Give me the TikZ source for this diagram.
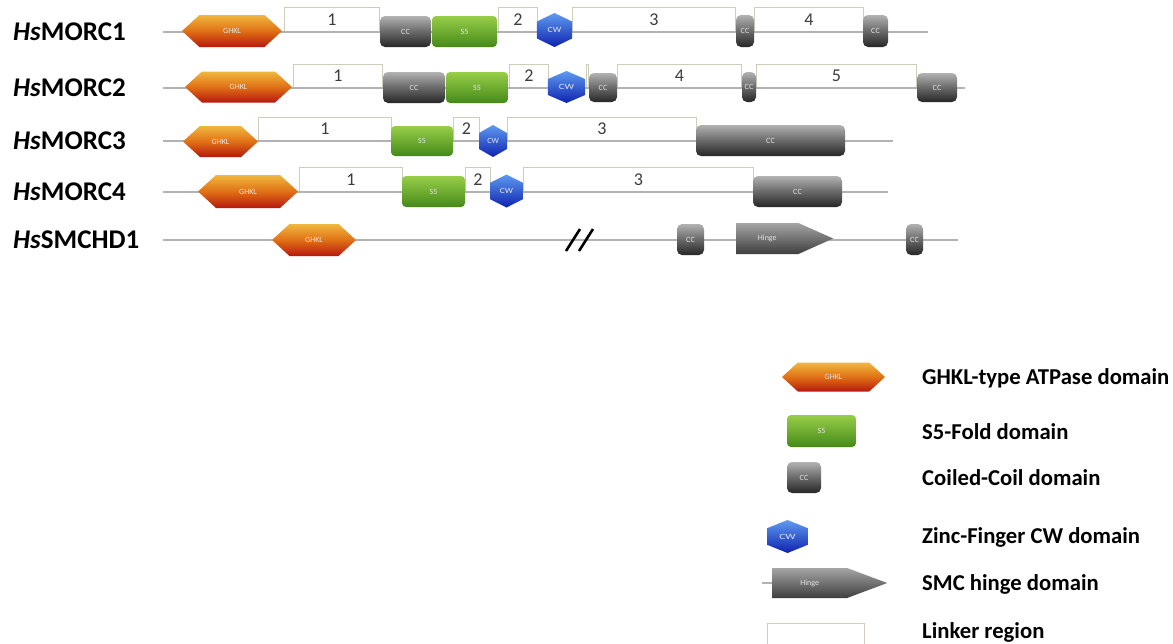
\documentclass[tikz,border=0pt]{standalone}
\usepackage{fontspec}
\setmainfont{Carlito}
\usetikzlibrary{shapes.symbols,shapes.geometric}

\definecolor{linegray}{RGB}{178,178,178}
\definecolor{linkborder}{RGB}{205,205,185}
\definecolor{ghkltop}{RGB}{240,184,62}
\definecolor{ghklmid}{RGB}{224,112,22}
\definecolor{ghklbot}{RGB}{182,24,14}
\definecolor{sfivetop}{RGB}{152,206,72}
\definecolor{sfivebot}{RGB}{68,138,24}
\definecolor{cctop}{RGB}{178,178,178}
\definecolor{ccmid}{RGB}{105,105,105}
\definecolor{ccbot}{RGB}{38,38,38}
\definecolor{cwtop}{RGB}{95,155,240}
\definecolor{cwbot}{RGB}{14,34,176}
\definecolor{hingetop}{RGB}{165,165,165}
\definecolor{hingebot}{RGB}{62,62,62}
\definecolor{numgray}{RGB}{60,60,60}

\tikzset{
  dom/.style={inner sep=0pt, font=\fontsize{8}{8}\selectfont, text=white!80!gray},
  ghkl/.style={dom, shape=signal, signal to=east and west, signal pointer angle=85,
    top color=ghkltop, bottom color=ghklbot, middle color=ghklmid, minimum height=32},
  sfive/.style={dom, rectangle, rounded corners=4pt,
    top color=sfivetop, bottom color=sfivebot, minimum height=31},
  cc/.style={dom, rectangle, rounded corners=5pt,
    top color=cctop, bottom color=ccbot, middle color=ccmid, minimum height=31},
  cw/.style={dom, regular polygon, regular polygon sides=6, regular polygon rotate=30,
    top color=cwtop, bottom color=cwbot, minimum size=34},
  hinge/.style={dom, shape=signal, signal to=east, signal pointer angle=48, anchor=west,
    top color=hingetop, bottom color=hingebot, minimum height=31},
  linker/.style={draw=linkborder, line width=0.8pt, fill=white, anchor=south west,
    inner sep=0pt, font=\fontsize{18}{18}\selectfont, text=numgray},
  bbone/.style={draw=linegray, line width=2.5pt},
  breakmark/.style={draw=black, line width=2.6pt},
  rowlabel/.style={anchor=west, inner sep=0pt, font=\fontsize{27}{27}\selectfont\bfseries},
  legtext/.style={anchor=west, inner sep=0pt, font=\fontsize{22.7}{22.7}\selectfont\bfseries},
}

\begin{document}
\begin{tikzpicture}[x=1pt, y=-1pt]
  \fill[white] (0,0) rectangle (1173,643);
  \useasboundingbox (0,0) rectangle (1173,643);

  % MORC1
  \node[rowlabel] (m1lab) at (13,32) {\textit{Hs}MORC1};
  \node[linker, minimum width=95, minimum height=24] (m1l1) at (284,32) {1};
  \node[linker, minimum width=39, minimum height=24] (m1l2) at (498,32) {2};
  \node[linker, minimum width=163, minimum height=24] (m1l3) at (572,32) {3};
  \node[linker, minimum width=109, minimum height=24] (m1l4) at (754,32) {4};
  \coordinate (m1s) at (163,32);
  \coordinate (m1e) at (928,32);
  \draw[bbone] (m1s) -- (m1e);
  \node[ghkl, minimum width=100] (m1ghkl) at (232,31) {GHKL};
  \node[cc, minimum width=51] (m1cc1) at (405.5,31.5) {CC};
  \node[sfive, minimum width=65] (m1sfive) at (464.5,31.5) {S5};
  \node[cw, xscale=1.19] (m1cw) at (554.5,30) {CW};
  \node[cc, minimum width=18, minimum height=32] (m1cc2) at (745,31) {CC};
  \node[cc, minimum width=25, minimum height=32] (m1cc3) at (875.5,31) {CC};

  % MORC2
  \node[rowlabel] (m2lab) at (13,88) {\textit{Hs}MORC2};
  \node[linker, minimum width=89, minimum height=23] (m2l1) at (293,88) {1};
  \node[linker, minimum width=39, minimum height=23] (m2l2) at (509,88) {2};
  \node[linker, minimum width=2, minimum height=23] (m2l3) at (586,88) {};
  \node[linker, minimum width=124, minimum height=23] (m2l4) at (617,88) {4};
  \node[linker, minimum width=160, minimum height=23] (m2l5) at (756,88) {5};
  \coordinate (m2s) at (163,88);
  \coordinate (m2e) at (965,88);
  \draw[bbone] (m2s) -- (m2e);
  \node[ghkl, minimum width=107, minimum height=31] (m2ghkl) at (238.5,87) {GHKL};
  \node[cc, minimum width=62] (m2cc1) at (414,87.5) {CC};
  \node[sfive, minimum width=62] (m2sfive) at (477,87.5) {S5};
  \node[cw, minimum size=32, xscale=1.34] (m2cw) at (566.5,87) {CW};
  \node[cc, minimum width=28, minimum height=29] (m2cc2) at (603,87.5) {CC};
  \node[cc, minimum width=14, minimum height=30] (m2cc3) at (749,87) {CC};
  \node[cc, minimum width=40, minimum height=29] (m2cc4) at (937,87.5) {CC};

  % MORC3
  \node[rowlabel] (m3lab) at (13,141) {\textit{Hs}MORC3};
  \node[linker, minimum width=133, minimum height=23] (m3l1) at (258,141) {1};
  \node[linker, minimum width=26, minimum height=23] (m3l2) at (453,141) {2};
  \node[linker, minimum width=189, minimum height=23] (m3l3) at (507,141) {3};
  \coordinate (m3s) at (163,141);
  \coordinate (m3e) at (893,141);
  \draw[bbone] (m3s) -- (m3e);
  \node[ghkl, minimum width=75, minimum height=31] (m3ghkl) at (220.5,141.5) {GHKL};
  \node[sfive, minimum width=62, minimum height=30] (m3sfive) at (422,141) {S5};
  \node[cw, minimum size=32, xscale=1.01] (m3cw) at (493,141) {CW};
  \node[cc, minimum width=149] (m3cc1) at (770.5,140.5) {CC};

  % MORC4
  \node[rowlabel] (m4lab) at (13,192) {\textit{Hs}MORC4};
  \node[linker, minimum width=103, minimum height=24] (m4l1) at (299,192) {1};
  \node[linker, minimum width=25, minimum height=24] (m4l2) at (465,192) {2};
  \node[linker, minimum width=230, minimum height=24] (m4l3) at (523,192) {3};
  \coordinate (m4s) at (163,192);
  \coordinate (m4e) at (888,192);
  \draw[bbone] (m4s) -- (m4e);
  \node[ghkl, minimum width=100, minimum height=33] (m4ghkl) at (248,191.5) {GHKL};
  \node[sfive, minimum width=63] (m4sfive) at (433.5,191.5) {S5};
  \node[cw, minimum size=33, xscale=1.15] (m4cw) at (506.5,191) {CW};
  \node[cc, minimum width=89] (m4cc1) at (797.5,191.5) {CC};

  % SMCHD1
  \node[rowlabel] (s1lab) at (13,240) {\textit{Hs}SMCHD1};
  \coordinate (s1s) at (163,240);
  \coordinate (s1e) at (958,240);
  \draw[bbone] (s1s) -- (s1e);
  \node[ghkl, minimum width=84] (s1ghkl) at (314,240) {GHKL};
  \draw[breakmark] (566,251) -- (580,229);
  \draw[breakmark] (579,251) -- (593,229);
  \node[cc, minimum width=27] (s1cc1) at (690.5,239.5) {CC};
  \node[hinge, minimum width=97] (s1hinge) at (736,238.5) {Hinge};
  \node[cc, minimum width=17] (s1cc2) at (914.5,239.5) {CC};

  % legend
  \node[ghkl, minimum width=103, minimum height=29] (lgghkl) at (833.5,377) {GHKL};
  \node[sfive, minimum width=69, minimum height=32] (lgsfive) at (821.5,431) {S5};
  \node[cc, minimum width=34] (lgcc) at (804,477.5) {CC};
  \node[cw, minimum size=33, xscale=1.43] (lgcw) at (787.5,536.5) {CW};
  \coordinate (lgstub) at (762,583);
  \node[hinge, signal pointer angle=41, minimum width=115, minimum height=30] (lghinge) at (772,583) {Hinge};
  \draw[draw=linegray, line width=1.5pt] (lgstub) -- (lghinge.west);
  \node[linker, anchor=north west, minimum width=97, minimum height=30] (lglink) at (767,623) {};

  \node[legtext] (lgghkltx) at (922,378) {GHKL-type ATPase domain};
  \node[legtext] (lgsfivetx) at (922,432) {S5-Fold domain};
  \node[legtext] (lgcctx) at (922,478) {Coiled-Coil domain};
  \node[legtext] (lgcwtx) at (922,537) {Zinc-Finger CW domain};
  \node[legtext] (lghingetx) at (922,584) {SMC hinge domain};
  \node[legtext] (lglinktx) at (922,632) {Linker region};
\end{tikzpicture}
\end{document}
